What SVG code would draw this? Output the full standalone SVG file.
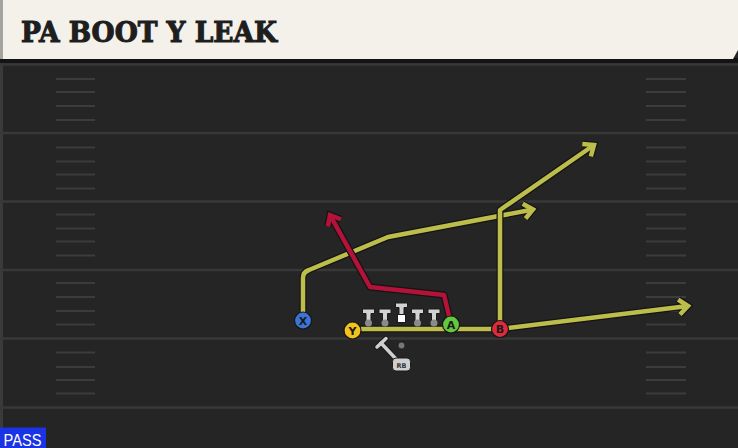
<svg xmlns="http://www.w3.org/2000/svg" width="738" height="448" viewBox="0 0 738 448">
<style>
.fl{stroke:#383838;stroke-width:2.5;fill:none}
.hs{stroke:#3c3c3c;stroke-width:2;fill:none}
.out{stroke:#141414;stroke-width:7;fill:none;stroke-linejoin:round}
.yl{stroke:#bdbd4c;stroke-width:4.5;fill:none;stroke-linejoin:round}
.rd{stroke:#b5123a;stroke-width:4.5;fill:none;stroke-linejoin:round}
.lbl{font-family:"DejaVu Sans","Liberation Sans",sans-serif;font-weight:bold;font-size:11px;fill:#1a1a1a;text-anchor:middle}
.ol{fill:#d2d2d2;stroke:#1a1a1a;stroke-width:1}
</style>
<defs>
<marker id="aDark" markerUnits="userSpaceOnUse" markerWidth="30" markerHeight="30" orient="auto" overflow="visible"><path d="M-9,-7.5 L0,0 L-9,7.5" fill="none" stroke="#141414" stroke-width="7"/></marker>
<marker id="aY" markerUnits="userSpaceOnUse" markerWidth="30" markerHeight="30" orient="auto" overflow="visible"><path d="M-9,-7.5 L0,0 L-9,7.5" fill="none" stroke="#bdbd4c" stroke-width="4.5"/></marker>
<marker id="aR" markerUnits="userSpaceOnUse" markerWidth="30" markerHeight="30" orient="auto" overflow="visible"><path d="M-9,-7.5 L0,0 L-9,7.5" fill="none" stroke="#b5123a" stroke-width="4.5"/></marker>
</defs>
<rect x="0" y="0" width="738" height="448" fill="#252525"/>
<rect x="0" y="58" width="3" height="390" fill="#3a3a3a"/>
<g id="field">
<path class="fl" d="M0,64.5H738M0,133H738M0,201.5H738M0,270H738M0,338.5H738M0,407.5H738"/>
<path class="hs" d="M56,79H95M56,92H95M56,106H95M56,120H95M56,147.5H95M56,161.5H95M56,174.5H95M56,188.5H95M56,214.5H95M56,228.5H95M56,241.5H95M56,255.5H95M56,283H95M56,297H95M56,311H95M56,324.5H95M56,352.5H95M56,367H95M56,380H95M56,393.5H95"/>
<path class="hs" d="M646,79H686M646,92H686M646,106H686M646,120H686M646,147.5H686M646,161.5H686M646,174.5H686M646,188.5H686M646,214.5H686M646,228.5H686M646,241.5H686M646,255.5H686M646,283H686M646,297H686M646,311H686M646,324.5H686M646,352.5H686M646,367H686M646,380H686M646,393.5H686"/>
</g>
<g id="header">
<rect x="0" y="58" width="738" height="5" fill="#141414"/>
<polygon points="3,0 738,0 738,50 733,59 3,59" fill="#f4f1eb"/>
<rect x="0" y="0" width="3" height="59" fill="#a3a3a0"/>
<text x="21" y="42" font-family="DejaVu Serif, Liberation Serif, serif" font-weight="bold" font-size="28" fill="#1e1e1e" textLength="256" lengthAdjust="spacingAndGlyphs" stroke="#1e1e1e" stroke-width="1.1">PA BOOT Y LEAK</text>
</g>
<g id="connectors">
<path class="out" d="M303,318 V278 Q303,272 309,270 L388,237 L533,209.5" marker-end="url(#aDark)"/>
<path class="yl" d="M303,318 V278 Q303,272 309,270 L388,237 L533,209.5" marker-end="url(#aY)"/>
<path class="out" d="M500,328 V210 L594,145" marker-end="url(#aDark)"/>
<path class="yl" d="M500,328 V210 L594,145" marker-end="url(#aY)"/>
<path class="out" d="M352,329 H500 L688,306" marker-end="url(#aDark)"/>
<path class="yl" d="M352,329 H500 L688,306" marker-end="url(#aY)"/>
<path class="out" d="M450,320 L444,295 L370,287 L330,215" marker-end="url(#aDark)"/>
<path class="rd" d="M450,320 L444,295 L370,287 L330,215" marker-end="url(#aR)"/>
</g>
<g id="line">
<g id="lt"><path class="ol" d="M362.5,309 h12 v4.5 h-3.5 v9 h-5 v-9 h-3.5 z"/><circle cx="368.5" cy="323" r="3.5" fill="#8a8a8a"/></g>
<g id="lg"><path class="ol" d="M379,309 h12 v4.5 h-3.5 v9 h-5 v-9 h-3.5 z"/><circle cx="385" cy="323" r="3.5" fill="#8a8a8a"/></g>
<g id="c"><path class="ol" d="M395.5,303 h12 v4.5 h-3.5 v7 h-5 v-7 h-3.5 z"/><rect x="397.5" y="314.5" width="8" height="8" fill="#ffffff" stroke="#1a1a1a" stroke-width="1"/></g>
<g id="rg"><path class="ol" d="M411.5,309 h12 v4.5 h-3.5 v9 h-5 v-9 h-3.5 z"/><circle cx="417.5" cy="323" r="3.5" fill="#8a8a8a"/></g>
<g id="rt"><path class="ol" d="M428,309 h12 v4.5 h-3.5 v9 h-5 v-9 h-3.5 z"/><circle cx="434" cy="323" r="3.5" fill="#8a8a8a"/></g>
</g>
<g id="rb">
<circle cx="401.5" cy="345.5" r="3.5" fill="#777" stroke="#1a1a1a" stroke-width="0.8"/>
<path d="M381,343 L397,360" stroke="#1a1a1a" stroke-width="5.5" stroke-linecap="round"/>
<path d="M377,347 L386,338.5" stroke="#1a1a1a" stroke-width="5.5" stroke-linecap="round"/>
<path d="M381,343 L397,360" stroke="#cfcfcf" stroke-width="3.5" stroke-linecap="round"/>
<path d="M377,347 L386,338.5" stroke="#cfcfcf" stroke-width="3.5" stroke-linecap="round"/>
<rect x="392.5" y="358" width="18" height="13" rx="3.5" fill="#cfcfcf" stroke="#1a1a1a" stroke-width="1"/>
<text x="401.5" y="367.5" font-family="DejaVu Sans, sans-serif" font-weight="bold" font-size="6.5" fill="#333" text-anchor="middle">RB</text>
</g>
<g id="X"><circle cx="303" cy="320.5" r="8.5" fill="#3b73d6" stroke="#151515" stroke-width="1.2"/><text class="lbl" x="303" y="324.5">X</text></g>
<g id="Y"><circle cx="352.5" cy="330.5" r="8.5" fill="#f2c21e" stroke="#151515" stroke-width="1.2"/><text class="lbl" x="352.5" y="334.5">Y</text></g>
<g id="A"><circle cx="451" cy="324.5" r="8.5" fill="#63c93c" stroke="#151515" stroke-width="1.2"/><text class="lbl" x="451" y="328.5">A</text></g>
<g id="B"><circle cx="500" cy="329" r="8.5" fill="#de2a3b" stroke="#151515" stroke-width="1.2"/><text class="lbl" x="500" y="333">B</text></g>
<g id="pass">
<rect x="0" y="427.5" width="46" height="20.5" fill="#1a33e4"/>
<text x="3.5" y="445.5" font-family="Liberation Sans, sans-serif" font-size="17" fill="#ffffff" textLength="38" lengthAdjust="spacingAndGlyphs">PASS</text>
</g>
</svg>
